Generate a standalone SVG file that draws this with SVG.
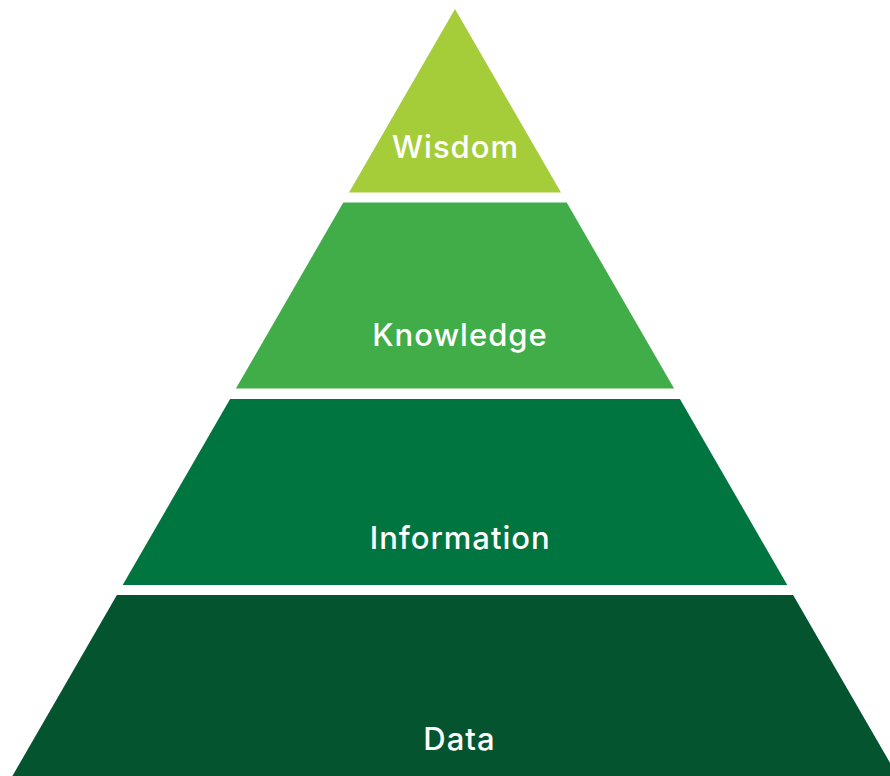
<svg xmlns="http://www.w3.org/2000/svg" width="890" height="776" viewBox="0 0 890 776">
<style>
.lbl{font-family:Inter,"Liberation Sans",Arial,sans-serif;font-weight:500;font-size:31px;fill:#ffffff;text-anchor:middle;letter-spacing:1px}
</style>
<rect width="890" height="776" fill="#ffffff"/>
<g id="wisdom">
<polygon points="455,9 561,192.5 349,192.5" fill="#a5cd39"/>
<text class="lbl" x="455.5" y="158">Wisdom</text>
</g>
<g id="knowledge">
<polygon points="343.3,202.5 566.7,202.5 674.1,388.5 235.9,388.5" fill="#41ad49"/>
<text class="lbl" x="460" y="346">Knowledge</text>
</g>
<g id="information">
<polygon points="230.1,399 679.9,399 787.3,585 122.7,585" fill="#00753f"/>
<text class="lbl" x="460.2" y="549">Information</text>
</g>
<g id="data">
<polygon points="116.9,595 793.1,595 897.6,776 12.4,776" fill="#03542f"/>
<text class="lbl" x="459.5" y="750">Data</text>
</g>
<g id="connectors"></g>
</svg>
